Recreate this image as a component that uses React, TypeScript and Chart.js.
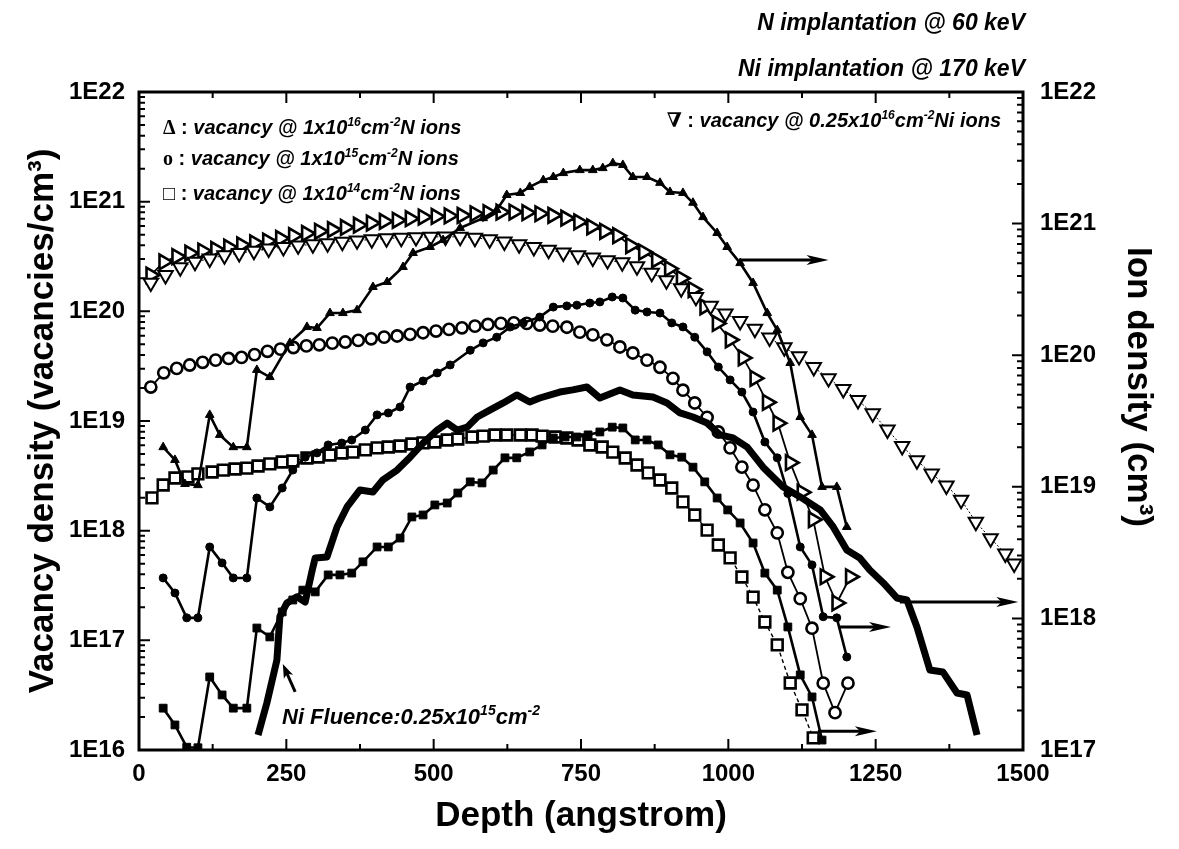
import React, { useEffect, useRef } from 'react';
import { Chart, registerables } from 'chart.js';
Chart.register(...registerables);

const SANS = "'Liberation Sans', Arial, Helvetica, sans-serif";
const SERIF = "'Liberation Serif', 'DejaVu Serif', serif";

// ---------------- data (depth in angstrom) ----------------
// open down-triangles: vacancy @ 0.25x10^16 Ni ions (left axis)
const vacNiDepth = [20, 45, 70, 95, 120, 145, 170, 195, 220, 245, 270, 295, 320, 345, 370, 395, 420, 445, 470, 495, 520, 545, 570, 595, 620, 645, 670, 695, 720, 745, 770, 795, 820, 845, 870, 895, 920, 945, 970, 995, 1020, 1045, 1070, 1095, 1120, 1145, 1170, 1195, 1220, 1245, 1270, 1295, 1320, 1345, 1370, 1395, 1420, 1445, 1470, 1485];
const vacNiValue = [1.82e20, 2.14e20, 2.51e20, 2.82e20, 3.02e20, 3.24e20, 3.39e20, 3.55e20, 3.72e20, 3.85e20, 3.98e20, 4.07e20, 4.17e20, 4.29e20, 4.42e20, 4.52e20, 4.62e20, 4.68e20, 4.73e20, 4.76e20, 4.79e20, 4.76e20, 4.68e20, 4.52e20, 4.32e20, 4.07e20, 3.85e20, 3.63e20, 3.43e20, 3.24e20, 3.09e20, 2.92e20, 2.79e20, 2.57e20, 2.24e20, 1.91e20, 1.62e20, 1.35e20, 1.12e20, 9.55e19, 8.13e19, 6.92e19, 5.75e19, 4.68e19, 3.89e19, 3.09e19, 2.45e19, 1.95e19, 1.55e19, 1.17e19, 8.32e18, 5.89e18, 4.37e18, 3.31e18, 2.57e18, 1.91e18, 1.20e18, 8.51e17, 6.17e17, 5.01e17];

// open right-triangles: vacancy @ 1x10^16 N ions (left axis)
const vacN16Depth = [20, 42, 64, 86, 108, 130, 152, 174, 196, 218, 240, 262, 284, 306, 328, 350, 372, 394, 416, 438, 460, 482, 504, 526, 548, 570, 592, 614, 636, 658, 680, 702, 724, 746, 768, 790, 812, 834, 856, 878, 900, 920, 940, 960, 981, 1003, 1025, 1045, 1066, 1084, 1105, 1125, 1144, 1164, 1184, 1207];
const vacN16Value = [2.14e20, 2.82e20, 3.16e20, 3.39e20, 3.55e20, 3.67e20, 3.85e20, 4.03e20, 4.22e20, 4.37e20, 4.62e20, 4.90e20, 5.13e20, 5.37e20, 5.56e20, 5.82e20, 6.10e20, 6.38e20, 6.61e20, 6.76e20, 7.00e20, 7.24e20, 7.33e20, 7.41e20, 7.50e20, 7.76e20, 7.94e20, 8.04e20, 8.04e20, 7.94e20, 7.76e20, 7.50e20, 7.08e20, 6.53e20, 5.89e20, 5.37e20, 4.90e20, 3.98e20, 3.47e20, 2.95e20, 2.45e20, 2.00e20, 1.58e20, 1.10e20, 7.76e19, 5.50e19, 3.76e19, 2.45e19, 1.48e19, 9.55e18, 4.17e18, 2.24e18, 1.26e18, 3.80e17, 2.19e17, 3.80e17];

// open circles: vacancy @ 1x10^15 N ions (left axis)
const vacN15Depth = [20, 42, 64, 86, 108, 130, 152, 174, 196, 218, 240, 262, 284, 306, 328, 350, 372, 394, 416, 438, 460, 482, 504, 526, 548, 570, 592, 614, 636, 658, 680, 702, 726, 748, 770, 794, 816, 838, 862, 884, 906, 923, 943, 964, 983, 1003, 1023, 1042, 1062, 1083, 1101, 1122, 1142, 1161, 1181, 1203];
const vacN15Value = [2.04e19, 2.75e19, 3.02e19, 3.24e19, 3.43e19, 3.59e19, 3.72e19, 3.80e19, 4.03e19, 4.32e19, 4.52e19, 4.68e19, 4.84e19, 4.95e19, 5.13e19, 5.25e19, 5.43e19, 5.62e19, 5.82e19, 5.96e19, 6.17e19, 6.38e19, 6.61e19, 6.84e19, 7.08e19, 7.33e19, 7.59e19, 7.76e19, 7.85e19, 7.76e19, 7.50e19, 7.33e19, 7.16e19, 6.46e19, 6.10e19, 5.50e19, 4.73e19, 4.17e19, 3.59e19, 3.09e19, 2.45e19, 1.91e19, 1.46e19, 1.08e19, 7.94e18, 5.69e18, 3.80e18, 2.60e18, 1.55e18, 9.55e17, 4.17e17, 2.40e17, 1.29e17, 4.07e16, 2.19e16, 4.07e16];

// open squares: vacancy @ 1x10^14 N ions (left axis)
const vacN14Depth = [22, 41, 61, 83, 100, 124, 143, 163, 183, 202, 222, 243, 261, 285, 304, 324, 344, 363, 384, 404, 423, 443, 463, 482, 502, 523, 541, 565, 584, 604, 624, 647, 667, 684, 706, 726, 745, 765, 786, 804, 825, 845, 864, 884, 904, 923, 943, 964, 983, 1003, 1023, 1042, 1062, 1083, 1105, 1125, 1144];
const vacN14Value = [1.99e18, 2.61e18, 3.02e18, 3.09e18, 3.29e18, 3.43e18, 3.57e18, 3.65e18, 3.72e18, 3.89e18, 4.06e18, 4.23e18, 4.32e18, 4.60e18, 4.70e18, 4.90e18, 5.11e18, 5.21e18, 5.45e18, 5.68e18, 5.79e18, 5.92e18, 6.17e18, 6.31e18, 6.44e18, 6.71e18, 6.85e18, 7.14e18, 7.29e18, 7.45e18, 7.45e18, 7.45e18, 7.45e18, 7.29e18, 7.14e18, 7.00e18, 6.71e18, 6.04e18, 5.79e18, 5.21e18, 4.60e18, 3.97e18, 3.36e18, 2.90e18, 2.45e18, 1.83e18, 1.39e18, 1.01e18, 7.40e17, 5.64e17, 3.78e17, 2.48e17, 1.47e17, 9.08e16, 4.08e16, 2.32e16, 1.29e16];

// filled triangles: ions @ 1x10^16 N (right axis)
const ionN16Depth = [41, 61, 78, 100, 120, 137, 160, 183, 200, 222, 256, 285, 302, 324, 346, 370, 397, 421, 448, 465, 494, 516, 545, 584, 607, 624, 647, 663, 686, 703, 720, 748, 770, 787, 804, 821, 838, 862, 884, 901, 923, 940, 957, 981, 998, 1020, 1042, 1066, 1083, 1105, 1122, 1142, 1159, 1184, 1201];
const ionN16Value = [2.00e19, 1.60e19, 1.05e19, 1.03e19, 3.52e19, 2.48e19, 2.00e19, 2.00e19, 7.73e19, 6.82e19, 1.24e20, 1.64e20, 1.61e20, 2.09e20, 2.09e20, 2.20e20, 3.30e20, 3.60e20, 4.68e20, 5.98e20, 6.64e20, 7.50e20, 9.27e20, 1.10e21, 1.27e21, 1.65e21, 1.71e21, 1.90e21, 2.14e21, 2.26e21, 2.42e21, 2.55e21, 2.55e21, 2.64e21, 2.88e21, 2.79e21, 2.26e21, 2.26e21, 2.04e21, 1.74e21, 1.71e21, 1.44e21, 1.12e21, 8.49e20, 6.64e20, 5.01e20, 3.54e20, 2.09e20, 1.55e20, 8.73e19, 3.39e19, 2.48e19, 9.98e18, 9.98e18, 4.95e18];

// filled circles: ions @ 1x10^15 N (right axis)
const ionN15Depth = [41, 61, 81, 100, 120, 141, 160, 183, 200, 222, 243, 261, 282, 302, 321, 344, 361, 384, 404, 423, 443, 460, 482, 506, 528, 562, 584, 607, 630, 652, 680, 703, 726, 743, 765, 782, 803, 821, 842, 862, 884, 904, 923, 943, 964, 983, 1003, 1023, 1042, 1062, 1083, 1101, 1122, 1142, 1161, 1184, 1201];
const ionN15Value = [2.03e18, 1.56e18, 1.01e18, 1.01e18, 3.49e18, 2.64e18, 2.03e18, 2.03e18, 8.22e18, 7.03e18, 9.79e18, 1.34e19, 1.68e19, 1.81e19, 2.08e19, 2.15e19, 2.27e19, 2.70e19, 3.52e19, 3.64e19, 4.04e19, 5.73e19, 6.37e19, 7.33e19, 8.43e19, 1.09e20, 1.24e20, 1.37e20, 1.64e20, 1.76e20, 1.95e20, 2.32e20, 2.37e20, 2.40e20, 2.49e20, 2.54e20, 2.77e20, 2.72e20, 2.20e20, 2.13e20, 2.09e20, 1.76e20, 1.64e20, 1.37e20, 1.06e20, 8.13e19, 6.49e19, 5.25e19, 3.70e19, 2.19e19, 1.66e19, 8.91e18, 3.49e18, 2.55e18, 1.03e18, 1.01e18, 5.09e17];

// filled squares: ions @ 1x10^14 N (right axis)
const ionN14Depth = [41, 61, 81, 100, 120, 141, 160, 183, 200, 222, 243, 261, 278, 299, 321, 341, 361, 380, 404, 423, 443, 463, 482, 502, 523, 541, 562, 582, 601, 621, 641, 663, 684, 703, 723, 743, 762, 782, 803, 821, 842, 862, 881, 901, 921, 940, 960, 981, 999, 1020, 1042, 1062, 1083, 1101, 1122, 1142, 1159];
const ionN14Value = [2.08e17, 1.55e17, 1.05e17, 1.04e17, 3.59e17, 2.62e17, 2.08e17, 2.08e17, 8.45e17, 7.23e17, 1.12e18, 1.38e18, 1.64e18, 1.59e18, 2.14e18, 2.14e18, 2.21e18, 2.69e18, 3.49e18, 3.49e18, 4.08e18, 5.90e18, 6.11e18, 7.28e18, 7.53e18, 8.97e18, 1.09e19, 1.07e19, 1.34e19, 1.66e19, 1.66e19, 1.84e19, 2.08e19, 2.35e19, 2.39e19, 2.39e19, 2.48e19, 2.61e19, 2.84e19, 2.80e19, 2.27e19, 2.27e19, 2.08e19, 1.75e19, 1.68e19, 1.41e19, 1.09e19, 8.22e18, 6.67e18, 5.31e18, 3.74e18, 2.21e18, 1.64e18, 8.61e17, 3.72e17, 2.53e17, 1.19e17];

// thick line: Ni ions, fluence 0.25x10^15 (right axis)
const ionNiDepth = [202, 217, 234, 239, 251, 268, 282, 294, 299, 319, 336, 353, 375, 397, 414, 438, 460, 482, 506, 523, 540, 557, 574, 596, 618, 641, 663, 680, 714, 736, 760, 782, 816, 838, 872, 896, 918, 940, 964, 986, 1008, 1032, 1059, 1093, 1122, 1156, 1178, 1201, 1223, 1240, 1263, 1286, 1303, 1320, 1342, 1364, 1388, 1405, 1422];
const ionNiValue = [1.30e17, 2.28e17, 4.83e17, 1.03e18, 1.31e18, 1.46e18, 1.33e18, 2.33e18, 2.88e18, 2.93e18, 4.95e18, 7.03e18, 9.46e18, 9.12e18, 1.13e19, 1.34e19, 1.68e19, 2.15e19, 2.70e19, 3.05e19, 2.70e19, 2.84e19, 3.39e19, 3.84e19, 4.34e19, 4.99e19, 4.41e19, 4.73e19, 5.25e19, 5.45e19, 5.73e19, 4.73e19, 5.45e19, 4.99e19, 4.81e19, 4.34e19, 3.64e19, 3.39e19, 3.05e19, 2.48e19, 2.35e19, 2.00e19, 1.41e19, 9.98e18, 8.38e18, 6.67e18, 4.95e18, 3.31e18, 2.88e18, 2.33e18, 1.86e18, 1.43e18, 1.38e18, 8.61e17, 4.06e17, 3.92e17, 2.71e17, 2.62e17, 1.30e17];

// ticks
const xTickValues = [0, 250, 500, 750, 1000, 1250, 1500];
const xTickLabels = ['0', '250', '500', '750', '1000', '1250', '1500'];
const xMinorValues = [125, 375, 625, 875, 1125, 1375];
const leftTickValues = [1e16, 1e17, 1e18, 1e19, 1e20, 1e21, 1e22];
const leftTickLabels = ['1E16', '1E17', '1E18', '1E19', '1E20', '1E21', '1E22'];
const rightTickValues = [1e17, 1e18, 1e19, 1e20, 1e21, 1e22];
const rightTickLabels = ['1E17', '1E18', '1E19', '1E20', '1E21', '1E22'];

// arrows pointing to the right (ion-density) axis: depth from/to, level on right axis
const arrowFromDepth = [1020, 1291, 1186, 1152];
const arrowToDepth = [1170, 1492, 1276, 1252];
const arrowLevel = [5.3e20, 1.33e18, 8.6e17, 1.39e17];
// pointer from the "Ni Fluence" note to the thick curve
const pointerDepth = [265, 244];
const pointerLevel = [2.76e17, 4.5e17];

type Part = { t: string; sup?: boolean; font?: string };

function drawRich(ctx: CanvasRenderingContext2D, parts: Part[], x: number, y: number, size: number, align: 'left' | 'right' = 'left') {
  const base = `italic bold ${size}px ${SANS}`;
  const sup = `italic bold ${Math.round(size * 0.62)}px ${SANS}`;
  const fontOf = (p: Part) => p.font ? p.font : (p.sup ? sup : base);
  let w = 0;
  for (const p of parts) { ctx.font = fontOf(p); w += ctx.measureText(p.t).width; }
  let cx = align === 'right' ? x - w : x;
  ctx.textAlign = 'left';
  ctx.textBaseline = 'alphabetic';
  for (const p of parts) {
    ctx.font = fontOf(p);
    ctx.fillText(p.t, cx, p.sup ? y - size * 0.42 : y);
    cx += ctx.measureText(p.t).width;
  }
}

function drawArrow(ctx: CanvasRenderingContext2D, x1: number, y1: number, x2: number, y2: number, lw: number, hl: number, hw: number) {
  const a = Math.atan2(y2 - y1, x2 - x1);
  const c = Math.cos(a), s = Math.sin(a);
  ctx.lineWidth = lw;
  ctx.beginPath();
  ctx.moveTo(x1, y1);
  ctx.lineTo(x2 - hl * 0.7 * c, y2 - hl * 0.7 * s);
  ctx.stroke();
  ctx.beginPath();
  ctx.moveTo(x2, y2);
  ctx.lineTo(x2 - hl * c + hw * s, y2 - hl * s - hw * c);
  ctx.lineTo(x2 - hl * 0.75 * c, y2 - hl * 0.75 * s);
  ctx.lineTo(x2 - hl * c - hw * s, y2 - hl * s + hw * c);
  ctx.closePath();
  ctx.fill();
}

const decorPlugin = {
  id: 'decor',
  afterDraw(chart: any) {
    const ctx: CanvasRenderingContext2D = chart.ctx;
    const { left, right, top, bottom } = chart.chartArea;
    const xs = chart.scales.x, yl = chart.scales.y, yr = chart.scales.y2;
    ctx.save();
    ctx.strokeStyle = '#000';
    ctx.fillStyle = '#000';
    ctx.lineCap = 'butt';

    // tick marks (inward)
    ctx.lineWidth = 2;
    ctx.beginPath();
    for (const v of xTickValues) {
      const px = xs.getPixelForValue(v);
      ctx.moveTo(px, bottom); ctx.lineTo(px, bottom - 11);
      ctx.moveTo(px, top); ctx.lineTo(px, top + 11);
    }
    for (const v of xMinorValues) {
      const px = xs.getPixelForValue(v);
      ctx.moveTo(px, bottom); ctx.lineTo(px, bottom - 6);
      ctx.moveTo(px, top); ctx.lineTo(px, top + 6);
    }
    const logTicks = (scale: any, vals: number[], x0: number, dir: number) => {
      vals.forEach((v, i) => {
        const py = scale.getPixelForValue(v);
        ctx.moveTo(x0, py); ctx.lineTo(x0 + dir * 11, py);
        if (i < vals.length - 1) {
          for (let m = 2; m <= 9; m++) {
            const q = scale.getPixelForValue(v * m);
            ctx.moveTo(x0, q); ctx.lineTo(x0 + dir * 6, q);
          }
        }
      });
    };
    logTicks(yl, leftTickValues, left, 1);
    logTicks(yr, rightTickValues, right, -1);
    ctx.stroke();

    // frame
    ctx.lineWidth = 3;
    ctx.strokeRect(left, top, right - left, bottom - top);

    // arrows
    arrowFromDepth.forEach((d, i) => {
      const py = yr.getPixelForValue(arrowLevel[i]);
      drawArrow(ctx, xs.getPixelForValue(d), py, xs.getPixelForValue(arrowToDepth[i]), py, 3, 22, 5);
    });
    drawArrow(ctx,
      xs.getPixelForValue(pointerDepth[0]), yr.getPixelForValue(pointerLevel[0]),
      xs.getPixelForValue(pointerDepth[1]), yr.getPixelForValue(pointerLevel[1]), 3, 14, 5);

    // in-plot legend texts
    const lg = 20;
    const sym = `bold ${lg}px ${SERIF}`;
    drawRich(ctx, [{ t: 'Δ', font: sym }, { t: ' : ', font: `bold ${lg}px ${SANS}` }, { t: 'vacancy @ 1x10' }, { t: '16', sup: true }, { t: 'cm' }, { t: '-2', sup: true }, { t: 'N ions' }], 163, 134, lg);
    drawRich(ctx, [{ t: 'o', font: sym }, { t: ' : ', font: `bold ${lg}px ${SANS}` }, { t: 'vacancy @ 1x10' }, { t: '15', sup: true }, { t: 'cm' }, { t: '-2', sup: true }, { t: 'N ions' }], 163, 165, lg);
    drawRich(ctx, [{ t: '□', font: `${lg}px ${SERIF}` }, { t: ' : ', font: `bold ${lg}px ${SANS}` }, { t: 'vacancy @ 1x10' }, { t: '14', sup: true }, { t: 'cm' }, { t: '-2', sup: true }, { t: 'N ions' }], 163, 200, lg);
    drawRich(ctx, [{ t: '∇', font: sym }, { t: ' : ', font: `bold ${lg}px ${SANS}` }, { t: 'vacancy @ 0.25x10' }, { t: '16', sup: true }, { t: 'cm' }, { t: '-2', sup: true }, { t: 'Ni ions' }], 1001, 127, lg, 'right');

    // note near thick curve
    drawRich(ctx, [{ t: 'Ni Fluence:0.25x10' }, { t: '15', sup: true }, { t: 'cm' }, { t: '-2', sup: true }], 282, 724, 22);

    // header texts
    drawRich(ctx, [{ t: 'N implantation @ 60 keV' }], 1025, 30, 23, 'right');
    drawRich(ctx, [{ t: 'Ni implantation @ 170 keV' }], 1025, 76, 23, 'right');

    // right axis title (reads top to bottom)
    ctx.save();
    ctx.translate(1138, 387);
    ctx.rotate(Math.PI / 2);
    ctx.font = `bold 35px ${SANS}`;
    ctx.textAlign = 'center';
    ctx.textBaseline = 'middle';
    ctx.fillText('Ion density (cm³)', 0, 0);
    ctx.restore();

    ctx.restore();
  },
};

const pts = (xs: number[], ys: number[]) => xs.map((x, i) => ({ x, y: ys[i] }));

export default function App() {
  const ref = useRef<HTMLCanvasElement>(null);
  useEffect(() => {
    if (!ref.current) return;
    const tickFont = { family: SANS, size: 24, weight: 'bold' as const };
    const chart = new Chart(ref.current, {
      type: 'line',
      data: {
        datasets: [
          {
            label: 'Ion density, Ni 0.25x10^15 cm^-2',
            data: pts(ionNiDepth, ionNiValue), yAxisID: 'y2',
            borderColor: '#000', borderWidth: 7, pointRadius: 0, tension: 0, borderJoinStyle: 'round',
          },
          {
            label: 'Ion density, N 1x10^16',
            data: pts(ionN16Depth, ionN16Value), yAxisID: 'y2',
            borderColor: '#000', borderWidth: 2.6, tension: 0,
            pointStyle: 'triangle', pointRadius: 5, pointBackgroundColor: '#000', pointBorderColor: '#000', pointBorderWidth: 1,
          },
          {
            label: 'Ion density, N 1x10^15',
            data: pts(ionN15Depth, ionN15Value), yAxisID: 'y2',
            borderColor: '#000', borderWidth: 2.6, tension: 0,
            pointStyle: 'circle', pointRadius: 4, pointBackgroundColor: '#000', pointBorderColor: '#000', pointBorderWidth: 1,
          },
          {
            label: 'Ion density, N 1x10^14',
            data: pts(ionN14Depth, ionN14Value), yAxisID: 'y2',
            borderColor: '#000', borderWidth: 2.6, tension: 0,
            pointStyle: 'rect', pointRadius: 5.5, pointBackgroundColor: '#000', pointBorderColor: '#000', pointBorderWidth: 1,
          },
          {
            label: 'Vacancy @ 0.25x10^16 Ni ions',
            data: pts(vacNiDepth, vacNiValue), yAxisID: 'y',
            borderColor: '#000', borderWidth: 1, borderDash: [2, 2], tension: 0,
            pointStyle: 'triangle', pointRotation: 180, pointRadius: 8.3, pointBackgroundColor: '#fff', pointBorderColor: '#000', pointBorderWidth: 2,
          },
          {
            label: 'Vacancy @ 1x10^16 N ions',
            data: pts(vacN16Depth, vacN16Value), yAxisID: 'y',
            borderColor: '#000', borderWidth: 1.8, tension: 0,
            pointStyle: 'triangle', pointRotation: 90, pointRadius: 8.5, pointBackgroundColor: '#fff', pointBorderColor: '#000', pointBorderWidth: 2.6,
          },
          {
            label: 'Vacancy @ 1x10^15 N ions',
            data: pts(vacN15Depth, vacN15Value), yAxisID: 'y',
            borderColor: '#000', borderWidth: 1.8, tension: 0,
            pointStyle: 'circle', pointRadius: 5.6, pointBackgroundColor: '#fff', pointBorderColor: '#000', pointBorderWidth: 2.6,
          },
          {
            label: 'Vacancy @ 1x10^14 N ions',
            data: pts(vacN14Depth, vacN14Value), yAxisID: 'y',
            borderColor: '#000', borderWidth: 1.4, borderDash: [4, 3], tension: 0,
            pointStyle: 'rect', pointRadius: 7.6, pointBackgroundColor: '#fff', pointBorderColor: '#000', pointBorderWidth: 2.6,
          },
        ],
      },
      options: {
        animation: false,
        responsive: false,
        maintainAspectRatio: false,
        layout: { padding: { top: 92, left: 0, right: 0, bottom: 0 } },
        plugins: { legend: { display: false }, tooltip: { enabled: false }, title: { display: false } },
        scales: {
          x: {
            type: 'linear', position: 'bottom', min: 0, max: 1500,
            grid: { display: false, drawTicks: false },
            border: { display: false },
            afterBuildTicks: (s: any) => { s.ticks = xTickValues.map((v) => ({ value: v })); },
            afterFit: (s: any) => { s.height = 99; },
            ticks: { font: tickFont, color: '#000', padding: 10, maxRotation: 0, autoSkip: false, callback: (_v: any, i: number) => xTickLabels[i] },
            title: { display: true, text: 'Depth (angstrom)', color: '#000', font: { family: SANS, size: 35, weight: 'bold' }, padding: { top: 0, bottom: 12 } },
          },
          y: {
            type: 'logarithmic', position: 'left', min: 1e16, max: 1e22,
            grid: { display: false, drawTicks: false },
            border: { display: false },
            afterBuildTicks: (s: any) => { s.ticks = leftTickValues.map((v) => ({ value: v })); },
            afterFit: (s: any) => { s.width = 139; },
            ticks: { font: tickFont, color: '#000', padding: 14, autoSkip: false, callback: (_v: any, i: number) => leftTickLabels[i] },
            title: { display: true, text: 'Vacancy density (vacancies/cm³)', color: '#000', font: { family: SANS, size: 35, weight: 'bold' }, padding: { top: 22, bottom: 0 } },
          },
          y2: {
            type: 'logarithmic', position: 'right', min: 1e17, max: 1e22,
            grid: { display: false, drawTicks: false },
            border: { display: false },
            afterBuildTicks: (s: any) => { s.ticks = rightTickValues.map((v) => ({ value: v })); },
            afterFit: (s: any) => { s.width = 156; },
            ticks: { font: tickFont, color: '#000', padding: 17, autoSkip: false, callback: (_v: any, i: number) => rightTickLabels[i] },
          },
        },
      },
      plugins: [decorPlugin],
    } as any);
    return () => chart.destroy();
  }, []);
  return (
    <div style={{ position: 'fixed', left: 0, top: 0, width: 1179, height: 849, background: '#fff' }}>
      <canvas ref={ref} width={1179} height={849} style={{ display: 'block' }} />
    </div>
  );
}
